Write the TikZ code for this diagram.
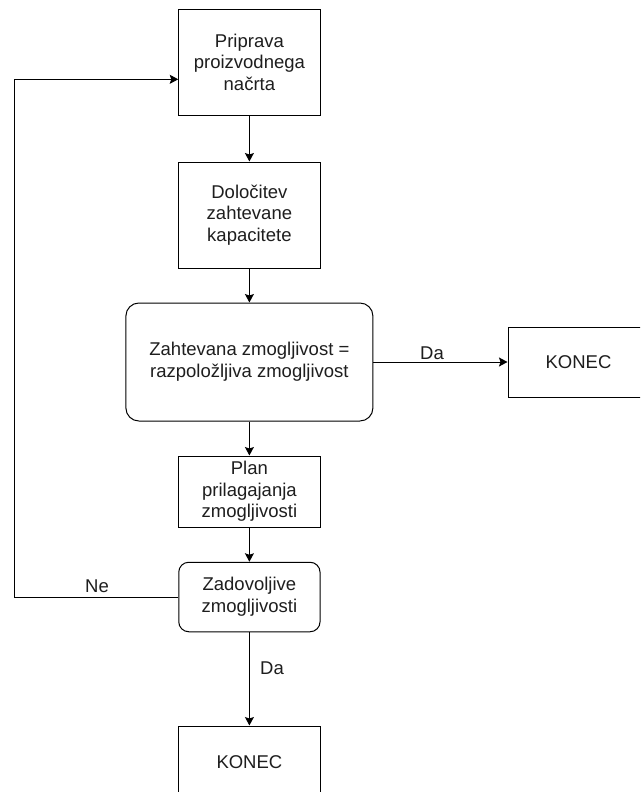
\documentclass[tikz,border=0pt]{standalone}
\usepackage{fontspec}
\setmainfont{Liberation Sans}
\usetikzlibrary{arrows.meta}
\definecolor{ink}{HTML}{1E1E1E}
\begin{document}
\begin{tikzpicture}[x=1pt,y=-1pt,
  txt/.style={font=\fontsize{18.5}{21.7}\selectfont, text=ink},
  box/.style={txt, draw=black, line width=1pt, inner sep=0pt, align=center},
  rbox/.style={box, rounded corners=13pt},
  arr/.style={draw=black, line width=1pt, -{Stealth[length=8.5pt,width=9pt,inset=1.5pt]}},
  lbl/.style={txt, inner sep=0pt}]
  \clip (0,0) rectangle (640,792);
  \fill[white] (0,0) rectangle (640,792);

  % process chain
  \node[box, minimum width=141.3pt, minimum height=105.7pt] (b1) at (249.4,62.2)
    {Priprava\\proizvodnega\\načrta};
  \node[box, minimum width=141.3pt, minimum height=106pt] (b2) at (249.4,215)
    {Določitev\\zahtevane\\kapacitete};
  \node[rbox, minimum width=247pt, minimum height=118pt] (b3) at (249.4,362)
    {Zahtevana zmogljivost =\\razpoložljiva zmogljivost};
  \node[box, minimum width=141pt, minimum height=70pt] (endr) at (578.5,362) {KONEC};
  \node[box, minimum width=141.3pt, minimum height=71pt] (b4) at (249.4,491.5)
    {Plan\\prilagajanja\\zmogljivosti};
  \node[rbox, rounded corners=10pt, minimum width=141.3pt, minimum height=69.5pt] (b5) at (249.4,597)
    {Zadovoljive\\zmogljivosti};
  \node[box, minimum width=141.3pt, minimum height=72pt] (endb) at (249.4,762) {KONEC};

  % connectors
  \draw[arr] (b1) -- (b2);
  \draw[arr] (b2) -- (b3);
  \draw[arr] (b3) -- (endr);
  \draw[arr] (b3) -- (b4);
  \draw[arr] (b4) -- (b5);
  \draw[arr] (b5) -- (endb);
  \coordinate (loop) at (14,79.3);
  \draw[arr] (b5.west) -| (loop) -- (loop -| b1.west);

  % branch labels
  \node[lbl] (da1) at (432,353) {Da};
  \node[lbl] (ne) at (97,586) {Ne};
  \node[lbl] (da2) at (272,668) {Da};
\end{tikzpicture}
\end{document}
